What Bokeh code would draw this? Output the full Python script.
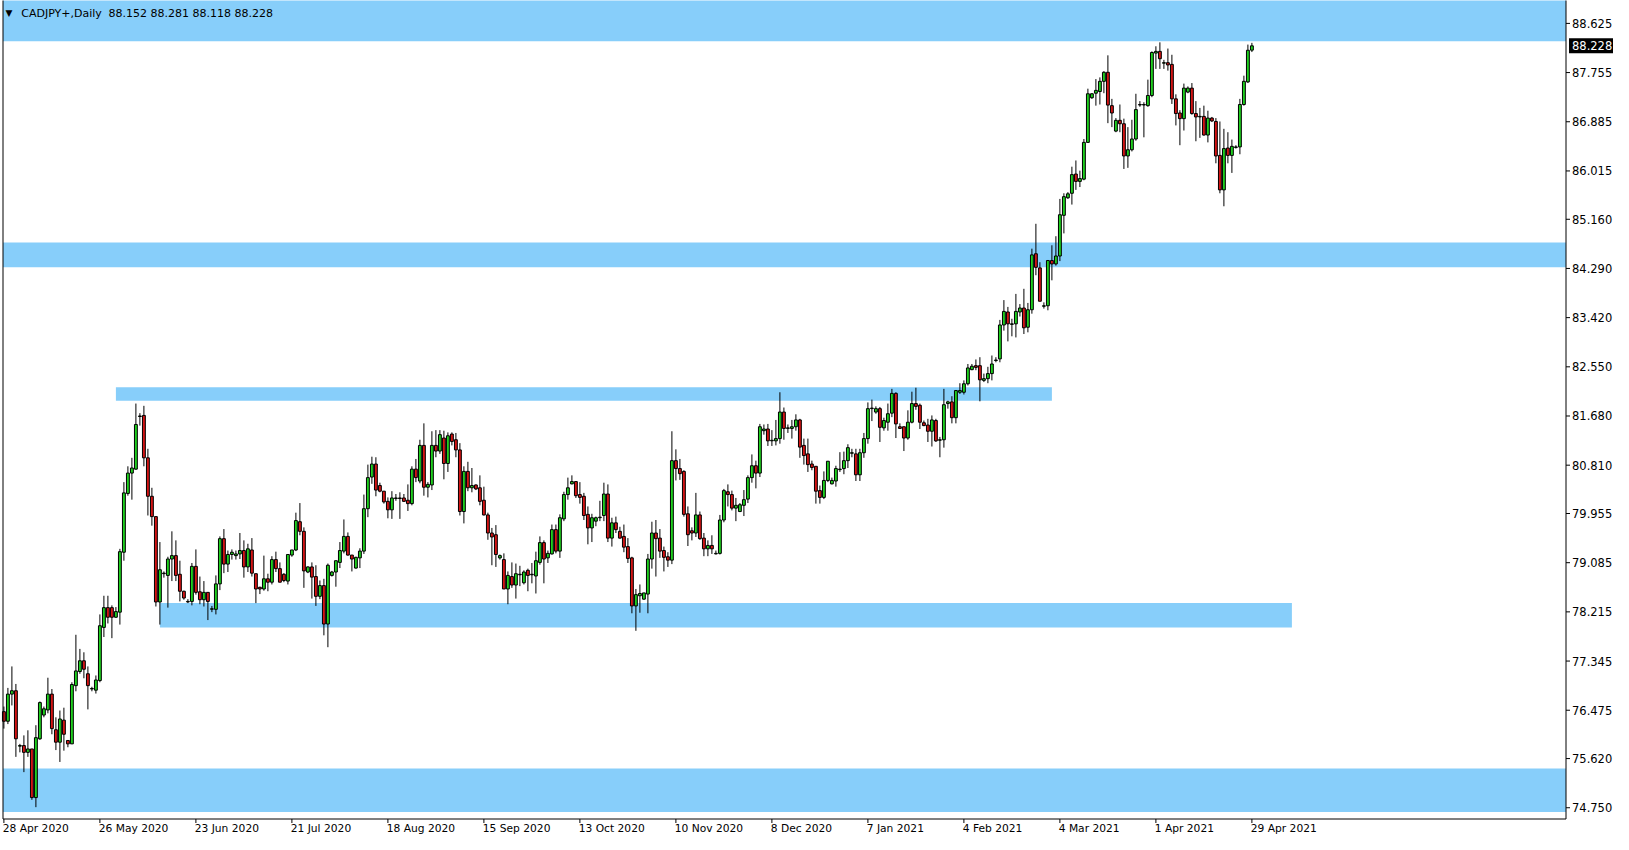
import numpy as np
from bokeh.plotting import figure
from bokeh.models import Range1d, ColumnDataSource
from bokeh.core.properties import value
from bokeh.embed import file_html
from bokeh.resources import INLINE

symbol_text = "CADJPY+,Daily"
ohlc_text = "88.152 88.281 88.118 88.228"
last_price = 88.228
last_label = "88.228"

open_ = [
    76.45, 76.28, 76.76, 76.82, 75.84, 75.85, 75.73, 75.79, 74.93, 75.97,
    76.39, 76.48, 76.76, 76.13, 75.91, 76.30, 75.94, 75.88, 76.91, 77.16,
    77.35, 77.12, 76.86, 76.83, 77.00, 77.94, 78.29, 78.29, 78.12, 78.21,
    79.27, 80.31, 80.67, 80.74, 81.68, 81.69, 80.94, 80.26, 79.90, 78.39,
    78.90, 78.86, 79.15, 79.21, 78.88, 78.58, 78.40, 78.40, 79.02, 78.57,
    78.43, 78.56, 78.27, 78.26, 78.71, 79.51, 79.06, 79.23, 79.21, 79.24,
    79.30, 79.01, 79.31, 78.89, 78.65, 78.62, 78.80, 78.74, 79.14, 78.98,
    78.88, 78.76, 79.22, 79.31, 79.81, 79.64, 78.92, 79.01, 78.84, 78.49,
    78.68, 78.00, 78.86, 78.92, 79.09, 79.29, 79.55, 79.22, 78.99, 79.17,
    79.29, 80.04, 80.60, 80.83, 80.45, 80.35, 80.17, 80.02, 80.23, 80.23,
    80.23, 80.19, 80.13, 80.74, 80.53, 81.16, 80.42, 80.46, 81.16, 81.06,
    81.29, 80.84, 81.36, 81.26, 81.08, 79.99, 80.70, 80.41, 80.46, 80.41,
    80.19, 79.93, 79.61, 79.58, 79.17, 79.14, 78.62, 78.84, 78.69, 78.88,
    78.73, 78.95, 78.88, 78.85, 79.09, 79.44, 79.17, 79.24, 79.67, 79.29,
    79.86, 80.29, 80.48, 80.52, 80.29, 80.26, 79.94, 79.70, 79.82, 79.89,
    79.92, 80.30, 79.52, 79.79, 79.64, 79.55, 79.37, 79.17, 78.32, 78.50,
    78.44, 78.53, 79.15, 79.61, 79.52, 79.30, 79.19, 79.13, 80.89, 80.75,
    80.70, 79.95, 79.65, 79.61, 79.93, 79.52, 79.33, 79.39, 79.25, 79.25,
    79.84, 80.34, 80.29, 80.05, 79.99, 80.10, 80.21, 80.59, 80.80, 80.67,
    81.42, 81.45, 81.25, 81.24, 81.28, 81.75, 81.47, 81.46, 81.49, 81.61,
    81.16, 81.01, 80.83, 80.79, 80.36, 80.24, 80.54, 80.48, 80.53, 80.74,
    80.75, 80.89, 81.03, 81.01, 80.64, 81.03, 81.28, 81.82, 81.75, 81.81,
    81.47, 81.57, 81.73, 82.08, 81.49, 81.49, 81.29, 81.57, 81.90, 81.87,
    81.56, 81.52, 81.41, 81.60, 81.26, 81.26, 81.90, 81.93, 81.65, 82.10,
    82.10, 82.25, 82.50, 82.57, 82.57, 82.31, 82.34, 82.43, 82.67, 82.69,
    83.29, 83.52, 83.31, 83.31, 83.52, 83.59, 83.25, 83.56, 84.55, 84.30,
    83.63, 83.63, 84.43, 84.37, 84.51, 85.23, 85.54, 85.62, 85.96, 85.83,
    85.87, 86.52, 87.31, 87.39, 87.42, 87.60, 87.76, 87.17, 86.72, 86.91,
    86.85, 86.28, 86.39, 86.58, 87.19, 87.19, 87.17, 87.35, 88.10, 88.13,
    87.93, 87.93, 87.90, 87.29, 87.04, 86.94, 87.41, 87.48, 87.03, 86.98,
    86.98, 86.65, 86.95, 86.89, 86.29, 85.68, 86.42, 86.29, 86.44, 86.44,
    87.19, 87.59, 88.152,
]
high = [
    76.54, 76.87, 77.25, 76.94, 75.88, 76.03, 76.12, 75.79, 76.21, 76.63,
    76.54, 77.05, 76.85, 76.35, 76.47, 76.52, 75.94, 76.97, 77.81, 77.56,
    77.50, 77.25, 76.89, 77.09, 78.17, 78.50, 78.50, 78.33, 78.30, 79.33,
    80.51, 80.79, 80.94, 81.90, 81.73, 81.86, 81.10, 80.41, 79.90, 79.45,
    78.93, 79.19, 79.64, 79.48, 79.12, 78.59, 78.44, 79.08, 79.32, 78.84,
    78.76, 78.56, 78.32, 78.86, 79.55, 79.68, 79.30, 79.32, 79.30, 79.61,
    79.48, 79.42, 79.52, 78.89, 78.66, 79.21, 78.89, 79.20, 79.28, 79.09,
    78.90, 79.23, 79.31, 79.97, 80.14, 79.71, 79.02, 79.09, 79.04, 78.77,
    78.80, 79.07, 78.94, 79.12, 79.45, 79.85, 79.62, 79.22, 79.19, 79.34,
    80.29, 80.82, 80.96, 80.95, 80.50, 80.35, 80.24, 80.35, 80.30, 80.33,
    80.30, 80.47, 80.79, 80.92, 81.26, 81.55, 80.51, 81.41, 81.43, 81.43,
    81.42, 81.39, 81.39, 81.38, 81.20, 80.79, 80.87, 80.76, 80.47, 80.63,
    80.43, 79.97, 79.70, 79.75, 79.23, 79.25, 78.93, 79.09, 79.07, 79.03,
    78.95, 78.98, 79.08, 79.28, 79.55, 79.48, 79.30, 79.76, 79.76, 79.94,
    80.34, 80.59, 80.63, 80.52, 80.51, 80.32, 80.08, 79.95, 79.90, 80.18,
    80.50, 80.47, 79.88, 79.90, 79.72, 79.76, 79.52, 79.19, 78.62, 78.70,
    78.55, 79.24, 79.81, 79.84, 79.68, 79.37, 79.27, 81.41, 81.09, 80.92,
    80.72, 80.08, 79.71, 80.32, 79.99, 79.61, 79.48, 79.57, 79.30, 79.93,
    80.39, 80.47, 80.36, 80.23, 80.14, 80.37, 80.63, 81.00, 80.89, 81.54,
    81.53, 81.54, 81.43, 81.61, 82.10, 81.83, 81.53, 81.61, 81.71, 81.63,
    81.28, 81.28, 80.89, 80.79, 80.45, 80.70, 80.88, 80.59, 80.80, 81.04,
    81.05, 81.18, 81.10, 81.10, 81.10, 81.38, 81.92, 81.97, 81.85, 81.84,
    81.65, 81.90, 82.16, 82.10, 81.55, 81.49, 81.78, 82.11, 82.18, 81.90,
    81.60, 81.63, 81.69, 81.63, 81.31, 82.16, 81.95, 82.03, 82.14, 82.26,
    82.31, 82.60, 82.60, 82.68, 82.72, 82.43, 82.55, 82.75, 82.72, 83.38,
    83.73, 83.61, 83.40, 83.84, 83.66, 83.93, 83.68, 84.64, 85.08, 84.40,
    83.69, 84.44, 84.70, 84.86, 85.52, 85.62, 85.64, 86.09, 86.20, 86.02,
    86.58, 87.47, 87.39, 87.64, 87.67, 87.78, 88.06, 87.29, 86.95, 87.19,
    86.94, 86.79, 86.92, 87.38, 87.25, 87.23, 87.63, 88.13, 88.22, 88.29,
    87.98, 88.18, 88.07, 87.37, 87.09, 87.56, 87.51, 87.57, 87.25, 87.13,
    87.17, 87.08, 86.97, 86.95, 86.89, 86.76, 86.70, 86.57, 86.47, 87.29,
    87.70, 88.25, 88.281,
]
low = [
    76.15, 76.23, 76.56, 75.65, 75.73, 75.38, 75.65, 74.89, 74.76, 75.95,
    76.35, 76.42, 76.05, 75.77, 75.56, 75.76, 75.82, 75.88, 76.81, 77.12,
    77.04, 76.49, 76.81, 76.77, 76.97, 77.77, 78.01, 77.75, 78.11, 77.99,
    79.12, 80.27, 80.20, 80.73, 81.51, 80.79, 79.92, 79.74, 78.31, 77.99,
    78.82, 78.29, 78.76, 78.76, 78.40, 78.43, 78.37, 78.33, 78.52, 78.35,
    78.31, 78.07, 78.21, 78.17, 78.60, 78.90, 78.92, 79.14, 79.14, 79.15,
    78.82, 78.92, 78.84, 78.37, 78.53, 78.59, 78.58, 78.70, 78.92, 78.74,
    78.74, 78.70, 79.19, 79.29, 79.57, 78.64, 78.90, 78.45, 78.32, 78.44,
    77.80, 77.59, 78.84, 78.66, 78.99, 79.25, 79.21, 78.93, 78.98, 78.99,
    79.24, 79.89, 80.48, 80.26, 80.33, 80.13, 79.87, 79.86, 80.18, 79.86,
    80.16, 80.00, 80.10, 80.51, 80.49, 80.27, 80.24, 80.37, 80.95, 81.01,
    80.56, 80.69, 81.16, 80.95, 79.92, 79.78, 80.35, 80.33, 80.37, 80.10,
    79.92, 79.49, 79.04, 79.01, 79.14, 78.62, 78.35, 78.64, 78.45, 78.67,
    78.70, 78.58, 78.72, 78.54, 79.05, 78.72, 79.08, 79.23, 79.25, 79.17,
    79.82, 80.20, 80.47, 80.23, 80.13, 79.84, 79.41, 79.45, 79.73, 79.82,
    79.82, 79.45, 79.37, 79.61, 79.51, 79.27, 79.08, 78.19, 77.88, 78.20,
    78.43, 78.19, 78.98, 78.84, 79.17, 78.93, 79.01, 79.06, 80.54, 80.55,
    79.90, 79.38, 79.48, 79.54, 79.49, 79.20, 79.20, 79.24, 79.23, 79.23,
    79.80, 80.08, 80.01, 79.82, 79.98, 79.91, 80.14, 80.50, 80.40, 80.60,
    81.35, 81.15, 81.15, 81.16, 81.19, 81.26, 81.38, 81.28, 81.42, 80.94,
    80.82, 80.69, 80.72, 80.13, 80.13, 80.21, 80.51, 80.47, 80.43, 80.69,
    80.65, 80.76, 80.95, 80.53, 80.53, 80.94, 81.19, 81.59, 81.72, 81.22,
    81.42, 81.42, 81.66, 81.29, 81.45, 81.06, 81.26, 81.55, 81.79, 81.45,
    81.50, 81.22, 81.14, 81.22, 80.95, 81.12, 81.81, 81.55, 81.55, 82.07,
    82.06, 82.22, 82.49, 82.49, 81.94, 82.28, 82.26, 82.31, 82.63, 82.63,
    83.19, 83.00, 83.09, 83.07, 83.44, 83.13, 83.16, 83.49, 84.17, 83.71,
    83.58, 83.55, 84.08, 84.34, 84.42, 84.91, 85.52, 85.42, 85.68, 85.73,
    85.85, 86.51, 87.29, 87.17, 87.19, 87.39, 86.86, 86.79, 86.70, 86.70,
    86.05, 86.07, 86.36, 86.55, 87.15, 86.61, 87.15, 87.32, 87.82, 87.82,
    87.82, 87.79, 87.20, 86.82, 86.47, 86.73, 87.39, 87.01, 86.54, 86.60,
    86.64, 86.52, 86.88, 86.15, 85.62, 85.39, 86.15, 85.98, 86.41, 86.31,
    87.17, 87.57, 88.118,
]
close = [
    76.28, 76.76, 76.82, 75.97, 75.85, 75.73, 75.79, 74.93, 75.99, 76.61,
    76.50, 76.76, 76.15, 75.91, 76.32, 76.05, 75.88, 76.93, 77.17, 77.35,
    77.20, 76.91, 76.86, 77.01, 77.97, 78.29, 78.12, 78.12, 78.22, 79.28,
    80.32, 80.67, 80.76, 81.53, 81.68, 80.94, 80.26, 79.90, 78.39, 78.96,
    78.90, 79.15, 79.21, 78.86, 78.58, 78.46, 78.40, 79.02, 78.56, 78.43,
    78.56, 78.40, 78.27, 78.71, 79.51, 79.06, 79.23, 79.27, 79.24, 79.30,
    79.01, 79.33, 78.90, 78.62, 78.62, 78.80, 78.74, 79.14, 78.98, 78.74,
    78.77, 79.23, 79.31, 79.83, 79.64, 78.94, 79.01, 78.83, 78.49, 78.68,
    78.00, 79.04, 78.92, 79.12, 79.30, 79.55, 79.22, 79.15, 79.18, 79.29,
    80.04, 80.59, 80.83, 80.37, 80.35, 80.16, 80.02, 80.23, 80.23, 80.22,
    80.17, 80.13, 80.74, 80.59, 81.16, 80.42, 80.47, 81.16, 81.06, 81.35,
    80.84, 81.33, 81.23, 81.08, 79.99, 80.70, 80.41, 80.45, 80.39, 80.17,
    79.93, 79.61, 79.54, 79.23, 79.21, 78.62, 78.86, 78.69, 78.89, 78.88,
    78.92, 78.86, 78.88, 79.12, 79.44, 79.15, 79.25, 79.67, 79.29, 79.88,
    80.29, 80.41, 80.52, 80.27, 80.24, 79.92, 79.70, 79.88, 79.88, 79.89,
    80.30, 79.52, 79.79, 79.67, 79.52, 79.36, 79.16, 78.32, 78.52, 78.54,
    78.55, 79.15, 79.61, 79.51, 79.29, 79.18, 79.13, 80.89, 80.75, 80.66,
    79.94, 79.58, 79.61, 79.93, 79.51, 79.33, 79.39, 79.33, 79.25, 79.84,
    80.36, 80.29, 80.05, 80.10, 80.11, 80.20, 80.59, 80.80, 80.67, 81.49,
    81.45, 81.24, 81.25, 81.28, 81.75, 81.46, 81.47, 81.49, 81.61, 81.13,
    80.98, 80.82, 80.77, 80.35, 80.24, 80.54, 80.88, 80.54, 80.75, 80.74,
    80.89, 81.12, 81.03, 80.64, 81.03, 81.28, 81.81, 81.82, 81.81, 81.48,
    81.60, 81.72, 82.08, 81.54, 81.46, 81.29, 81.57, 81.90, 81.85, 81.57,
    81.51, 81.41, 81.61, 81.24, 81.26, 81.88, 81.93, 81.65, 82.13, 82.13,
    82.25, 82.53, 82.56, 82.54, 82.32, 82.34, 82.43, 82.60, 82.67, 83.29,
    83.53, 83.31, 83.31, 83.53, 83.59, 83.24, 83.56, 84.53, 84.31, 83.71,
    83.63, 84.43, 84.37, 84.51, 85.24, 85.56, 85.61, 85.95, 85.83, 85.88,
    86.52, 87.38, 87.38, 87.44, 87.60, 87.76, 87.18, 87.04, 86.91, 86.85,
    86.28, 86.39, 86.58, 87.10, 87.19, 87.19, 87.35, 88.11, 88.13, 88.00,
    87.93, 87.89, 87.29, 87.03, 86.94, 87.48, 87.48, 87.03, 86.97, 86.98,
    86.65, 86.95, 86.90, 86.28, 85.68, 86.41, 86.29, 86.45, 86.44, 87.19,
    87.60, 88.15, 88.228,
]

date_ticks = [0, 24, 48, 72, 96, 120, 144, 168, 192, 216, 240, 264, 288, 312]
date_labels = ["28 Apr 2020", "26 May 2020", "23 Jun 2020", "21 Jul 2020",
               "18 Aug 2020", "15 Sep 2020", "13 Oct 2020", "10 Nov 2020",
               "8 Dec 2020", "7 Jan 2021", "4 Feb 2021", "4 Mar 2021",
               "1 Apr 2021", "29 Apr 2021"]
price_ticks = [88.625, 87.755, 86.885, 86.015, 85.160, 84.290, 83.420, 82.550,
               81.680, 80.810, 79.955, 79.085, 78.215, 77.345, 76.475, 75.620, 74.750]
price_labels = ["88.625", "87.755", "86.885", "86.015", "85.160", "84.290", "83.420",
                "82.550", "81.680", "80.810", "79.955", "79.085", "78.215", "77.345",
                "76.475", "75.620", "74.750"]

# support / resistance zones: price band and bar-index span (None = whole chart width)
zone_low = [88.31, 84.31, 81.95, 77.94, 74.675]
zone_high = [89.30, 84.75, 82.19, 78.37, 75.445]
zone_start = [None, None, 28, 39, None]
zone_end = [None, None, 262, 322, None]

# ---------------- geometry (screen layout) ----------------
W, H = 1613, 834
X0 = -0.85                     # bar index at the canvas left edge (4 px per bar)
X1 = X0 + W / 4.0
Y1 = 89.030                    # price at the canvas top edge (56.53 px per unit)
Y0 = Y1 - H / 56.53
PX = (X1 - X0) / W
PY = (Y1 - Y0) / H
CHART_L = X0 + 2.5 * PX
CHART_R = X0 + 1565.5 * PX
CHART_B = Y1 - 818.5 * PY

o = np.array(open_)
h = np.array(high)
l = np.array(low)
c = np.array(close)
n = len(o)
x = np.arange(n)
h = np.maximum(h, np.maximum(o, c))
l = np.minimum(l, np.minimum(o, c))
top = np.maximum(o, c)
bot = np.minimum(o, c)
bot = np.where(top - bot < 0.5 * PY, top - 0.5 * PY, bot)
colors = np.where(c >= o, "#1fd01f", "#d41414")

src = ColumnDataSource(dict(x=x, h=h, l=l, top=top, bot=bot, color=list(colors)))

p = figure(frame_width=W, frame_height=H,
           x_range=Range1d(X0, X1), y_range=Range1d(Y0, Y1),
           output_backend="svg", toolbar_location=None,
           x_axis_location=None, y_axis_location=None, min_border=0)
p.background_fill_color = "white"
p.border_fill_color = "white"
p.outline_line_color = None
p.xgrid.visible = False
p.ygrid.visible = False

zl = [CHART_L if s is None else s for s in zone_start]
zr = [CHART_R if e is None else e for e in zone_end]
p.quad(left=zl, right=zr, bottom=zone_low, top=zone_high,
       fill_color="#87cefa", line_color=None)

p.segment(x0="x", y0="l", x1="x", y1="h", source=src, line_color="black", line_width=1)
p.vbar(x="x", width=0.72, top="top", bottom="bot", source=src,
       fill_color="color", line_color="black", line_width=1)

# chart border
p.segment(x0=[CHART_L, CHART_R, CHART_L], y0=[CHART_B, CHART_B, CHART_B],
          x1=[CHART_L, CHART_R, CHART_R], y1=[Y1 + 1, Y1 + 1, CHART_B],
          line_color="black", line_width=1)

# price scale (right)
p.segment(x0=[CHART_R] * len(price_ticks), y0=price_ticks,
          x1=[CHART_R + 4 * PX] * len(price_ticks), y1=price_ticks,
          line_color="black", line_width=1)
p.text(x=[CHART_R + 6 * PX] * len(price_ticks), y=price_ticks, text=price_labels,
       text_font=value("DejaVu Sans"), text_font_size="11.5px", text_color="black",
       text_align="left", text_baseline="middle")

# current price tag
p.quad(left=[CHART_R + 3 * PX], right=[X1],
       bottom=[last_price - 7.5 * PY], top=[last_price + 7.5 * PY],
       fill_color="black", line_color=None)
p.text(x=[CHART_R + 6 * PX], y=[last_price], text=[last_label],
       text_font=value("DejaVu Sans"), text_font_size="11.5px", text_color="white",
       text_align="left", text_baseline="middle")

# time scale (bottom)
p.segment(x0=date_ticks, y0=[CHART_B] * len(date_ticks),
          x1=date_ticks, y1=[CHART_B - 4 * PY] * len(date_ticks),
          line_color="black", line_width=1)
p.text(x=[t - 1.2 * PX for t in date_ticks], y=[Y1 - 827.5 * PY] * len(date_ticks),
       text=date_labels, text_font=value("DejaVu Sans"), text_font_size="10.7px",
       text_color="black", text_align="left", text_baseline="middle")

# header
p.text(x=[X0 + 5 * PX], y=[Y1 - 12.5 * PY], text=["\u25bc"],
       text_font=value("DejaVu Sans"), text_font_size="9px", text_color="black",
       text_align="left", text_baseline="middle")
p.text(x=[X0 + 20.8 * PX], y=[Y1 - 12.5 * PY], text=[symbol_text],
       text_font=value("DejaVu Sans"), text_font_size="11px", text_color="black",
       text_align="left", text_baseline="middle")
p.text(x=[X0 + 108 * PX], y=[Y1 - 12.5 * PY], text=[ohlc_text],
       text_font=value("DejaVu Sans"), text_font_size="11px", text_color="black",
       text_align="left", text_baseline="middle")

open("out.html", "w").write(file_html(p, INLINE))
